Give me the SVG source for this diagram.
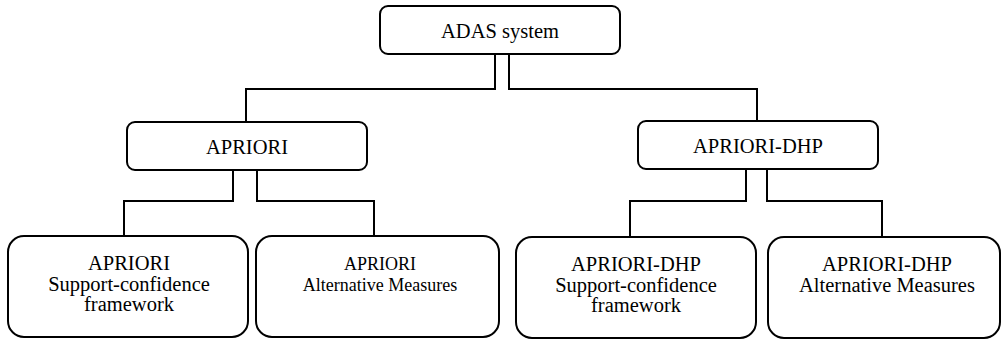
<svg xmlns="http://www.w3.org/2000/svg" width="1001" height="340" viewBox="0 0 1001 340">
  <style>
    .box { fill: #ffffff; stroke: #000000; stroke-width: 2; }
    .link { fill: none; stroke: #000000; stroke-width: 2; }
    .lbl { font-family: 'Liberation Serif', 'Times New Roman', serif; font-size: 20.5px; fill: #000000; text-anchor: middle; }
    .small { font-size: 18px; }
  </style>
  <rect width="1001" height="340" fill="#ffffff"/>

  <!-- tree connectors -->
  <g id="connectors">
    <path class="link" d="M495 54 V89 H246 V122"/>
    <path class="link" d="M509 54 V89 H757 V121"/>
    <path class="link" d="M233 170 V201 H124 V236"/>
    <path class="link" d="M257 170 V201 H374 V236"/>
    <path class="link" d="M746 169 V201 H630 V237"/>
    <path class="link" d="M767 169 V201 H882 V237"/>
  </g>

  <g id="adas">
    <rect class="box" x="380" y="6" width="240" height="48" rx="8"/>
    <text class="lbl" x="500" y="38">ADAS system</text>
  </g>

  <g id="apriori">
    <rect class="box" x="127" y="122" width="240" height="48" rx="8"/>
    <text class="lbl" x="247" y="154">APRIORI</text>
  </g>

  <g id="apriori-dhp">
    <rect class="box" x="638" y="121" width="240" height="48" rx="8"/>
    <text class="lbl" x="758" y="153">APRIORI-DHP</text>
  </g>

  <g id="apriori-support">
    <rect class="box" x="8" y="236" width="240" height="101" rx="16"/>
    <text class="lbl" x="129" y="270">APRIORI</text>
    <text class="lbl" x="129" y="291">Support-confidence</text>
    <text class="lbl" x="129" y="311">framework</text>
  </g>

  <g id="apriori-alternative">
    <rect class="box" x="256" y="236" width="243" height="101" rx="16"/>
    <text class="lbl small" x="380" y="270">APRIORI</text>
    <text class="lbl small" x="380" y="291">Alternative Measures</text>
  </g>

  <g id="dhp-support">
    <rect class="box" x="516" y="237" width="240" height="101" rx="16"/>
    <text class="lbl" x="636" y="271">APRIORI-DHP</text>
    <text class="lbl" x="636" y="292">Support-confidence</text>
    <text class="lbl" x="636" y="312">framework</text>
  </g>

  <g id="dhp-alternative">
    <rect class="box" x="768" y="237" width="232" height="101" rx="16"/>
    <text class="lbl" x="887" y="271">APRIORI-DHP</text>
    <text class="lbl" x="887" y="292">Alternative Measures</text>
  </g>
</svg>
